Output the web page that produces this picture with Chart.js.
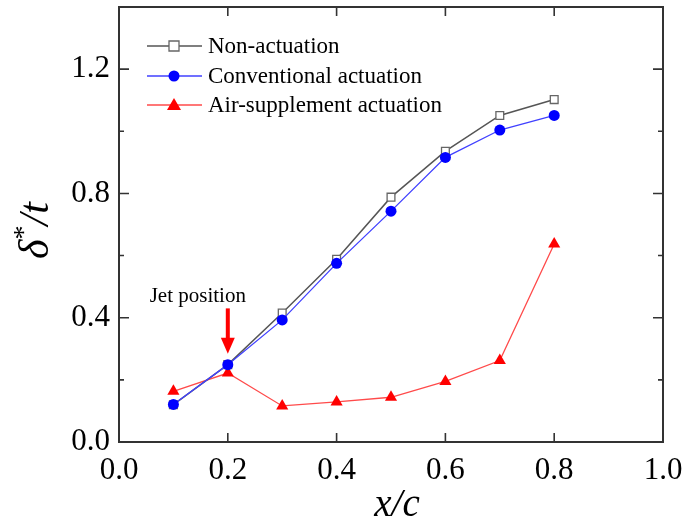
<!DOCTYPE html>
<html>
<head>
<meta charset="utf-8">
<script src="https://cdn.jsdelivr.net/npm/chart.js@4.4.0/dist/chart.umd.min.js"></script>
<style>
  html, body { margin: 0; padding: 0; background: #fff; }
  #wrap { position: relative; width: 685px; height: 522px; }
</style>
</head>
<body>
<div id="wrap"><canvas id="myChart"></canvas></div>
<script>
// x/c stations
const xPos = [0.1, 0.2, 0.3, 0.4, 0.5, 0.6, 0.7, 0.8];
const nonActuation = [0.12, 0.249, 0.415, 0.588, 0.788, 0.936, 1.051, 1.102];
const conventional = [0.121, 0.249, 0.393, 0.575, 0.743, 0.916, 1.004, 1.051];
const airSupplement = [0.163, 0.222, 0.116, 0.129, 0.144, 0.195, 0.262, 0.637];
const seriesNames = ['Non-actuation', 'Conventional actuation', 'Air-supplement actuation'];
const jetX = 0.2;

const SERIF = '"Liberation Serif", "Times New Roman", serif';

function pts(ys) {
  return xPos.map((x, i) => ({ x: x, y: ys[i] }));
}

// frame, inward ticks, axis titles, legend and jet arrow
const decor = {
  id: 'decor',
  afterDatasetsDraw(chart) {
    const { ctx, chartArea: a, scales: { x, y } } = chart;
    ctx.save();

    // jet position arrow + label
    const jx = x.getPixelForValue(jetX);
    const top = y.getPixelForValue(0.43);
    const tip = y.getPixelForValue(0.284);
    ctx.fillStyle = '#ff0000';
    ctx.fillRect(jx - 2, top, 4, (tip - top) - 14);
    ctx.beginPath();
    ctx.moveTo(jx - 7, tip - 16);
    ctx.lineTo(jx + 7, tip - 16);
    ctx.lineTo(jx, tip);
    ctx.closePath();
    ctx.fill();
    ctx.fillStyle = '#000';
    ctx.font = '21px ' + SERIF;
    ctx.textAlign = 'center';
    ctx.textBaseline = 'alphabetic';
    ctx.fillText('Jet position', jx - 30, y.getPixelForValue(0.452));

    // frame
    ctx.strokeStyle = '#333';
    ctx.lineWidth = 2;
    ctx.strokeRect(a.left, a.top, a.right - a.left, a.bottom - a.top);

    // ticks
    ctx.lineWidth = 1.6;
    ctx.beginPath();
    x.ticks.forEach(t => {
      const px = x.getPixelForValue(t.value);
      ctx.moveTo(px, a.bottom); ctx.lineTo(px, a.bottom - 9);
      ctx.moveTo(px, a.top); ctx.lineTo(px, a.top + 9);
    });
    y.ticks.forEach(t => {
      const py = y.getPixelForValue(t.value);
      const len = t.label ? 10 : 5;
      ctx.moveTo(a.left, py); ctx.lineTo(a.left + len, py);
      ctx.moveTo(a.right, py); ctx.lineTo(a.right - len, py);
    });
    ctx.stroke();

    // x title
    ctx.fillStyle = '#000';
    ctx.font = 'italic 39px ' + SERIF;
    ctx.textAlign = 'center';
    ctx.textBaseline = 'alphabetic';
    ctx.fillText('x/c', 397, 516);

    // y title: δ*/t
    ctx.save();
    ctx.translate(36, (a.top + a.bottom) / 2 + 6);
    ctx.rotate(-Math.PI / 2);
    ctx.textAlign = 'left';
    ctx.font = 'italic 42px ' + SERIF;
    const wD = ctx.measureText('δ').width;
    ctx.font = '28px ' + SERIF;
    const wS = ctx.measureText('*').width;
    ctx.font = 'italic 42px ' + SERIF;
    const wR = ctx.measureText('/t').width;
    let sx = -(wD + wS + wR) / 2;
    ctx.fillText('δ', sx, 12);
    ctx.font = '28px ' + SERIF;
    ctx.fillText('*', sx + wD, -4);
    ctx.font = 'italic 42px ' + SERIF;
    ctx.fillText('/t', sx + wD + wS, 12);
    ctx.restore();

    // legend
    const rows = [46, 76, 105];
    chart.data.datasets.forEach((ds, i) => {
      const ly = rows[i];
      ctx.strokeStyle = ds.borderColor;
      ctx.lineWidth = ds.borderWidth;
      ctx.beginPath();
      ctx.moveTo(147, ly); ctx.lineTo(202, ly);
      ctx.stroke();
      const cx = 174;
      ctx.fillStyle = ds.pointBackgroundColor;
      ctx.strokeStyle = ds.pointBorderColor;
      ctx.lineWidth = ds.pointBorderWidth;
      ctx.beginPath();
      if (ds.pointStyle === 'rect') {
        ctx.rect(cx - 5, ly - 5, 10, 10);
        ctx.fill(); ctx.stroke();
      } else if (ds.pointStyle === 'circle') {
        ctx.arc(cx, ly, 5.5, 0, Math.PI * 2);
        ctx.fill();
      } else {
        ctx.moveTo(cx, ly - 7); ctx.lineTo(cx + 7, ly + 5); ctx.lineTo(cx - 7, ly + 5);
        ctx.closePath(); ctx.fill();
      }
      ctx.fillStyle = '#000';
      ctx.font = '23px ' + SERIF;
      ctx.textAlign = 'left';
      ctx.textBaseline = 'middle';
      ctx.fillText(ds.label, 208, ly + 1);
    });

    ctx.restore();
  }
};

new Chart(document.getElementById('myChart'), {
  type: 'line',
  data: {
    datasets: [
      {
        label: seriesNames[0],
        data: pts(nonActuation),
        borderColor: '#555555',
        borderWidth: 1.5,
        pointStyle: 'rect',
        pointRadius: 5.5,
        pointBackgroundColor: '#ffffff',
        pointBorderColor: '#666666',
        pointBorderWidth: 1.3,
        order: 1
      },
      {
        label: seriesNames[1],
        data: pts(conventional),
        borderColor: '#4040ff',
        borderWidth: 1.3,
        pointStyle: 'circle',
        pointRadius: 5.5,
        pointBackgroundColor: '#0000ff',
        pointBorderColor: '#0000ff',
        pointBorderWidth: 0,
        order: 0
      },
      {
        label: seriesNames[2],
        data: pts(airSupplement),
        borderColor: '#ff4a4a',
        borderWidth: 1.3,
        pointStyle: 'triangle',
        pointRadius: 7,
        pointBackgroundColor: '#ff0000',
        pointBorderColor: '#ff0000',
        pointBorderWidth: 0,
        order: 2
      }
    ]
  },
  options: {
    responsive: true,
    maintainAspectRatio: false,
    animation: false,
    layout: { padding: { top: 3, right: 22, left: 0, bottom: 0 } },
    plugins: {
      legend: { display: false },
      tooltip: { enabled: false }
    },
    scales: {
      x: {
        type: 'linear',
        min: 0, max: 1,
        afterFit(s) { s.height = 80; s.paddingLeft = 0; s.paddingRight = 0; },
        grid: { display: false, drawTicks: false },
        border: { display: false },
        ticks: {
          stepSize: 0.2,
          padding: 10,
          color: '#000',
          font: { family: SERIF, size: 31 },
          callback: v => v.toFixed(1)
        }
      },
      y: {
        type: 'linear',
        min: 0, max: 1.4,
        afterFit(s) { s.width = 119; s.paddingTop = 0; s.paddingBottom = 0; },
        grid: { display: false, drawTicks: false },
        border: { display: false },
        ticks: {
          stepSize: 0.2,
          padding: 9,
          color: '#000',
          font: { family: SERIF, size: 31 },
          callback: v => (Math.abs(v / 0.4 - Math.round(v / 0.4)) < 1e-6 ? v.toFixed(1) : '')
        }
      }
    }
  },
  plugins: [decor]
});
</script>
</body>
</html>
